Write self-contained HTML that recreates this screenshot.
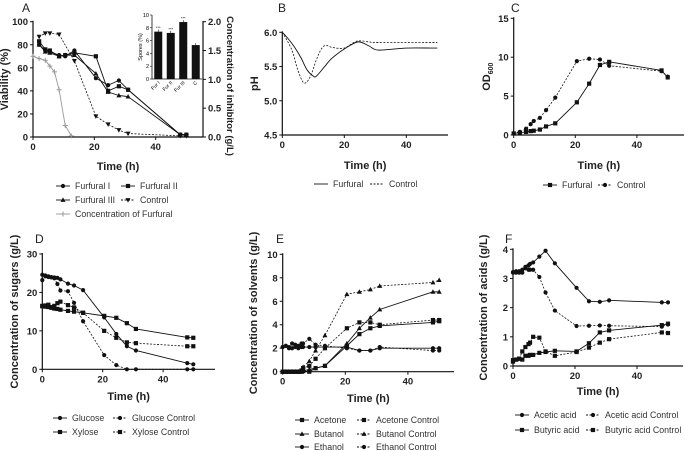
<!DOCTYPE html>
<html><head><meta charset="utf-8"><style>
body{margin:0;background:#fff}
svg{display:block;font-family:"Liberation Sans",Arial,sans-serif}
.t{font-size:9.5px;font-weight:bold;fill:#222}
.ti{font-size:11px;font-weight:bold;fill:#222}
.tr{font-size:9.5px;font-weight:bold;fill:#222}
.lg{font-size:8.8px;fill:#333}
.pl{font-size:12px;fill:#222}
</style></head><body>
<svg id="fig" width="685" height="451" viewBox="0 0 685 451" xmlns="http://www.w3.org/2000/svg">
<g id="root"></g>
</svg>
<script>
// ---------- DATA ----------
const tA = [2,4,5.5,8.5,10.5,13.5,20.5,24.5,28,31,48,50];
const viabF1 = [80,75,74,71,70,75,51,45,49,41,2,2];
const viabF2 = [83,76,75,70,71,73,70,40,44,41,2,2];
const viabF3 = [80,74,73,70,71,71,55,39,36,35,2,2];
const tACtrl = [2,4,5.5,8.5,13.5,20.5,24.5,28,31,48,50];
const viabCtrl = [87,90,90,89,66,18,11,6,3,1,1];
const tFurf = [0,2,4,5.5,7,8.5,10.5,12.5];
const furfConc = [1.4,1.36,1.33,1.23,1.13,0.82,0.2,0.02];
const sporeCats = ["Fur I","Fur II","Fur III","C"];
const sporeVals = [7.4,7.2,8.9,5.3];

const tB = [0,2,4,6,8,10,11,13.5,16,20.5,24.5,28,31,40,48,50];
const phFurf = [6.0,5.9,5.78,5.63,5.45,5.36,5.36,5.49,5.62,5.77,5.86,5.8,5.74,5.77,5.77,5.77];
const tBCtrl = [0,3,5,7,9,11,12.5,14,16,20,24,28,31,50];
const phCtrl = [6.0,5.75,5.45,5.26,5.35,5.6,5.75,5.81,5.78,5.77,5.87,5.86,5.85,5.85];

const tC = [0,2,4,5.5,6.5,8.5,10.5,13.5,20.5,24.5,28,31,48,50];
const odFurf = [0.2,0.3,0.4,0.5,0.55,0.7,1.1,1.5,4.2,6.6,9.0,9.4,8.3,7.4];
const odCtrl = [0.2,0.4,0.8,1.4,1.8,2.2,3.2,4.8,9.5,9.8,9.7,8.9,8.2,7.5];

const tD = [0,1,2,3,4,5,6,8.5,10.5,13.5,20.5,24.5,28,31,48,50];
const glc = [24.6,24.4,24.2,24.0,23.9,23.8,23.4,22.3,21.8,20.6,13.5,9.2,6,4.9,1.6,1.3];
const glcCtrl = [23.2,24.2,24.0,23.9,23.7,22.2,20.5,20.3,17.3,12.5,3.7,1.1,0,0,0,0];
const xyl = [16.5,16.3,16.2,16.0,15.8,15.7,15.5,15.2,15,14.7,13.9,13.4,12,10.5,8.3,8.2];
const xylCtrl = [16.4,16.6,16.8,16.2,16.5,17.2,17.6,16.7,16.1,14.7,10,8.2,7,6.8,6,6];

const tE = [0,1,2,3,4,5,6,6.5,8.5,10.5,13.5,20.5,24.5,28,31,48,50];
const acetone = [0,0,0,0,0,0,0,0.05,0,0.3,0.5,2.2,3.2,3.7,3.9,4.2,4.3];
const acetoneCtrl = [0,0,0,0,0,0,0.1,0.3,0.5,1.1,2.0,3.7,4.2,4.2,4.0,4.4,4.4];
const butanol = [0,0,0,0,0,0,0,0.05,0.2,0.3,0.5,2.4,3.7,4.6,5.3,6.8,6.8];
const butanolCtrl = [0,0,0,0,0,0,0,0.4,0.9,1.8,3.1,6.6,6.8,7.0,7.3,7.6,7.8];
const ethanol = [2.1,2.2,2.1,2.0,2.1,2.0,2.1,2.1,2.1,2.1,2.1,2.1,1.8,1.8,2.0,2.0,2.0];
const ethanolCtrl = [2.1,2.2,2.0,2.4,2.3,2.2,2.4,2.4,2.8,2.3,2.2,2.0,1.8,1.8,2.1,1.8,1.8];

const tF = [0,1,2,3,4,5,5.5,6.5,8.5,10.5,13.5,20.5,24.5,28,31,48,50];
const acetic = [3.2,3.25,3.2,3.3,3.35,3.45,3.5,3.55,3.75,3.95,3.52,2.68,2.22,2.2,2.25,2.18,2.18];
const aceticCtrl = [3.22,3.2,3.25,3.2,3.4,3.3,3.3,3.3,3.05,2.52,1.9,1.37,1.38,1.39,1.38,1.35,1.42];
const butyric = [0.2,0.22,0.25,0.22,0.35,0.35,0.38,0.38,0.45,0.48,0.52,0.5,0.78,1.15,1.22,1.4,1.45];
const butyricCtrl = [0.15,0.22,0.25,0.5,0.65,0.75,0.8,1.0,0.97,0.5,0.35,0.48,0.63,0.8,0.92,1.15,1.13];

const xTicks = [0,20,40];

// ---------- helpers ----------
const NS="http://www.w3.org/2000/svg";
const root=document.getElementById('root');
function el(tag,attrs,parent,text){const e=document.createElementNS(NS,tag);for(const k in attrs)e.setAttribute(k,attrs[k]);if(text!==undefined)e.textContent=text;(parent||root).appendChild(e);return e;}
function marker(g,shape,x,y,col){
  if(shape==='c')el('circle',{cx:x,cy:y,r:2.1,fill:col},g);
  else if(shape==='s')el('rect',{x:x-2.1,y:y-2.1,width:4.2,height:4.2,fill:col},g);
  else if(shape==='t')el('polygon',{points:`${x},${y-2.6} ${x-2.5},${y+1.9} ${x+2.5},${y+1.9}`,fill:col},g);
  else if(shape==='v')el('polygon',{points:`${x},${y+2.6} ${x-2.5},${y-1.9} ${x+2.5},${y-1.9}`,fill:col},g);
  else if(shape==='p')el('path',{d:`M${x-2.5},${y}H${x+2.5}M${x},${y-2.5}V${y+2.5}`,stroke:col,'stroke-width':1},g);
}
function panel(o){
  const g=el('g',{});
  
  
  const X=t=>o.x0+t*o.kx, Y=v=>o.y0-(v-o.ymin)/(o.ymax-o.ymin)*(o.y0-o.y1);
  const ax=el('path',{d:`M${o.x0},${o.y1-1}V${o.y0}H${o.xend}`,stroke:'#111','stroke-width':1.2,fill:'none'},g);
  
  
  xTicks.forEach(t=>{el('line',{x1:X(t),x2:X(t),y1:o.y0,y2:o.y0+3,stroke:'#111'},g);
    const l=el('text',{x:X(t),y:o.y0+13,'text-anchor':'middle',class:'t'},g,t);
    });
  o.yTicks.forEach((v,i)=>{el('line',{x1:o.x0-3,x2:o.x0,y1:Y(v),y2:Y(v),stroke:'#111'},g);
    const l=el('text',{x:o.x0-5,y:Y(v)+3.5,'text-anchor':'end',class:'t'},g,o.yLabels[i]);
    });
  const xt=el('text',{x:(o.x0+o.xend)/2,y:o.xtY,'text-anchor':'middle',class:'ti'},g,'Time (h)');
  
  const yt=el('text',{x:0,y:0,'text-anchor':'middle',class:'ti',transform:`translate(${o.ytX},${(o.y0+o.y1)/2}) rotate(-90)`},g);
  yt.innerHTML=o.ytitle;
  
  const pl=el('text',{x:o.labX,y:o.labY,class:'pl'},g,o.label);
  
  o.series.forEach(s=>{
    const sg=el('g',{},g);
    
    
    const col=s.col||'#111';
    const yf=s.Y||Y;
    const pts=s.t.map((t,i)=>[X(t),yf(s.v[i])]);
    let d;
    if(s.smooth){d='M'+pts[0].join(',');for(let i=0;i<pts.length-1;i++){const p0=pts[i-1]||pts[i],p1=pts[i],p2=pts[i+1],p3=pts[i+2]||p2;
      d+=`C${p1[0]+(p2[0]-p0[0])/6},${p1[1]+(p2[1]-p0[1])/6} ${p2[0]-(p3[0]-p1[0])/6},${p2[1]-(p3[1]-p1[1])/6} ${p2[0]},${p2[1]}`;}}
    else d='M'+pts.map(p=>p.join(',')).join('L');
    el('path',{d,fill:'none',stroke:col,'stroke-width':s.dash?0.8:0.9,'stroke-dasharray':s.dash?'2,1.5':'none'},sg);
    if(s.m)pts.forEach(p=>marker(sg,s.m,p[0],p[1],col));
  });
  o.legend.forEach(L=>{
    const lg=el('g',{},g);
    
    
    const col=L.col||'#111';
    el('line',{x1:L.x-7,x2:L.x+7,y1:L.y,y2:L.y,stroke:col,'stroke-width':0.9,'stroke-dasharray':L.dash?'2,1.5':'none'},lg);
    if(L.m)marker(lg,L.m,L.x,L.y,col);
    el('text',{x:L.x+12,y:L.y+3.2,class:'lg'},lg,L.text);
  });
  return {g,X,Y};
}

// ---------- Panel A ----------
const A=panel({name:'panel-a-viability',label:'A',labX:22,labY:12,x0:33,y0:137,y1:21.7,kx:3.067,xend:203,ymin:0,ymax:100,
  yTicks:[0,20,40,60,80,100],yLabels:['0','20','40','60','80','100'],xtY:170,ytX:8,ytitle:'Viability (%)',
  series:[
   {name:'series-furfural-conc',t:tFurf,v:furfConc,m:'p',col:'#999',Y:v=>137-v/2*(137-21.7)},
   {name:'series-furfural-1',t:tA,v:viabF1,m:'c'},
   {name:'series-furfural-2',t:tA,v:viabF2,m:'s'},
   {name:'series-furfural-3',t:tA,v:viabF3,m:'t'},
   {name:'series-control',t:tACtrl,v:viabCtrl,m:'v',dash:true}],
  legend:[{x:63,y:186,m:'c',text:'Furfural I'},{x:128,y:186,m:'s',text:'Furfural II'},
   {x:63,y:200,m:'t',text:'Furfural III'},{x:128,y:200,m:'v',dash:true,text:'Control'},
   {x:63,y:214,m:'p',col:'#999',text:'Concentration of Furfural'}]});
(function(){const g=A.g;
 el('line',{x1:203,x2:203,y1:21,y2:137,stroke:'#111','stroke-width':1.2},g);
 [0,0.5,1,1.5,2].forEach(v=>{const y=137-v/2*(137-21.7);el('line',{x1:203,x2:206,y1:y,y2:y,stroke:'#111'},g);
  el('text',{x:208,y:y+3.5,class:'t'},g,v.toFixed(1));});
 const t=el('text',{x:0,y:0,'text-anchor':'middle',class:'tr',transform:'translate(227,86) rotate(90)'},g,'Concentration of inhibitor (g/L)');
 
 const ig=el('g',{},g);
 const iy0=79,iy1=15,ix0=152,ix1=202;const IY=v=>iy0-v/10*(iy0-iy1);
 el('path',{d:`M${ix0},${iy1}V${iy0}H${ix1}`,stroke:'#111',fill:'none','stroke-width':0.8},ig);
 [0,2,4,6,8,10].forEach(v=>{el('line',{x1:ix0-2,x2:ix0,y1:IY(v),y2:IY(v),stroke:'#111','stroke-width':0.6},ig);
  el('text',{x:ix0-3,y:IY(v)+2,'text-anchor':'end','font-size':'5.5px'},ig,v);});
 el('text',{x:0,y:0,'text-anchor':'middle','font-size':'5.5px',transform:`translate(${ix0-10},47) rotate(-90)`},ig,'Spores (%)');
 const bw=(ix1-ix0)/sporeCats.length;
 sporeCats.forEach((c,i)=>{const cx=ix0+bw*(i+0.5);
  const b=el('rect',{x:cx-4,y:IY(sporeVals[i]),width:8,height:iy0-IY(sporeVals[i]),fill:'#111'},ig);
  
  el('line',{x1:cx,x2:cx,y1:IY(sporeVals[i])-2,y2:IY(sporeVals[i]),stroke:'#111','stroke-width':0.6},ig);
  if(i<3)el('text',{x:cx,y:IY(sporeVals[i])-2.5,'text-anchor':'middle','font-size':'4px'},ig,'***');
  el('text',{x:0,y:0,'text-anchor':'end','font-size':'5px',transform:`translate(${cx+2},${iy0+4}) rotate(-45)`},ig,c);});
})();

// ---------- Panel B ----------
panel({name:'panel-b-ph',label:'B',labX:278,labY:12,x0:282.3,y0:135,y1:32.3,kx:3.1,xend:448,ymin:4.5,ymax:6.0,
  yTicks:[4.5,5.0,5.5,6.0],yLabels:['4.5','5.0','5.5','6.0'],xtY:169,ytX:258,ytitle:'pH',
  series:[{name:'series-ph-furfural',t:tB,v:phFurf,smooth:true},{name:'series-ph-control',t:tBCtrl,v:phCtrl,smooth:true,dash:true}],
  legend:[{x:321,y:184,text:'Furfural'},{x:377,y:184,dash:true,text:'Control'}]});

// ---------- Panel C ----------
panel({name:'panel-c-od',label:'C',labX:511,labY:12,x0:513.7,y0:135,y1:18.3,kx:3.08,xend:684,ymin:0,ymax:15,
  yTicks:[0,5,10,15],yLabels:['0','5','10','15'],xtY:169,ytX:490,ytitle:'OD<tspan font-size="7" dy="3">600</tspan>',
  series:[{name:'series-od-furfural',t:tC,v:odFurf,m:'s'},{name:'series-od-control',t:tC,v:odCtrl,m:'c',dash:true}],
  legend:[{x:550,y:185,m:'s',text:'Furfural'},{x:605,y:185,m:'c',dash:true,text:'Control'}]});

// ---------- Panel D ----------
panel({name:'panel-d-sugars',label:'D',labX:35,labY:243,x0:42.3,y0:369.3,y1:254,kx:3.02,xend:215,ymin:0,ymax:30,
  yTicks:[0,10,20,30],yLabels:['0','10','20','30'],xtY:400,ytX:18,ytitle:'Concentration of sugars (g/L)',
  series:[{name:'series-glucose',t:tD,v:glc,m:'c'},{name:'series-glucose-control',t:tD,v:glcCtrl,m:'c',dash:true},
   {name:'series-xylose',t:tD,v:xyl,m:'s'},{name:'series-xylose-control',t:tD,v:xylCtrl,m:'s',dash:true}],
  legend:[{x:60,y:418,m:'c',text:'Glucose'},{x:120,y:418,m:'c',dash:true,text:'Glucose Control'},
   {x:60,y:432,m:'s',text:'Xylose'},{x:120,y:432,m:'s',dash:true,text:'Xylose Control'}]});

// ---------- Panel E ----------
panel({name:'panel-e-solvents',label:'E',labX:276,labY:243,x0:282.7,y0:371.7,y1:254.3,kx:3.13,xend:454,ymin:0,ymax:10,
  yTicks:[0,2,4,6,8,10],yLabels:['0','2','4','6','8','10'],xtY:402,ytX:257,ytitle:'Concentration of solvents (g/L)',
  series:[{name:'series-acetone',t:tE,v:acetone,m:'s'},{name:'series-acetone-control',t:tE,v:acetoneCtrl,m:'s',dash:true},
   {name:'series-butanol',t:tE,v:butanol,m:'t'},{name:'series-butanol-control',t:tE,v:butanolCtrl,m:'t',dash:true},
   {name:'series-ethanol',t:tE,v:ethanol,m:'c'},{name:'series-ethanol-control',t:tE,v:ethanolCtrl,m:'c',dash:true}],
  legend:[{x:302,y:420,m:'s',text:'Acetone'},{x:364,y:420,m:'s',dash:true,text:'Acetone Control'},
   {x:302,y:434,m:'t',text:'Butanol'},{x:364,y:434,m:'t',dash:true,text:'Butanol Control'},
   {x:302,y:447,m:'c',text:'Ethanol'},{x:364,y:447,m:'c',dash:true,text:'Ethanol Control'}]});

// ---------- Panel F ----------
panel({name:'panel-f-acids',label:'F',labX:505,labY:243,x0:513,y0:366,y1:249.3,kx:3.1,xend:683,ymin:0,ymax:4,
  yTicks:[0,1,2,3,4],yLabels:['0','1','2','3','4'],xtY:395,ytX:487,ytitle:'Concentration of acids (g/L)',
  series:[{name:'series-acetic',t:tF,v:acetic,m:'c'},{name:'series-acetic-control',t:tF,v:aceticCtrl,m:'c',dash:true},
   {name:'series-butyric',t:tF,v:butyric,m:'s'},{name:'series-butyric-control',t:tF,v:butyricCtrl,m:'s',dash:true}],
  legend:[{x:522,y:415,m:'c',text:'Acetic acid'},{x:593,y:415,m:'c',dash:true,text:'Acetic acid Control'},
   {x:522,y:430,m:'s',text:'Butyric acid'},{x:593,y:430,m:'s',dash:true,text:'Butyric acid Control'}]});
</script>
</body></html>
